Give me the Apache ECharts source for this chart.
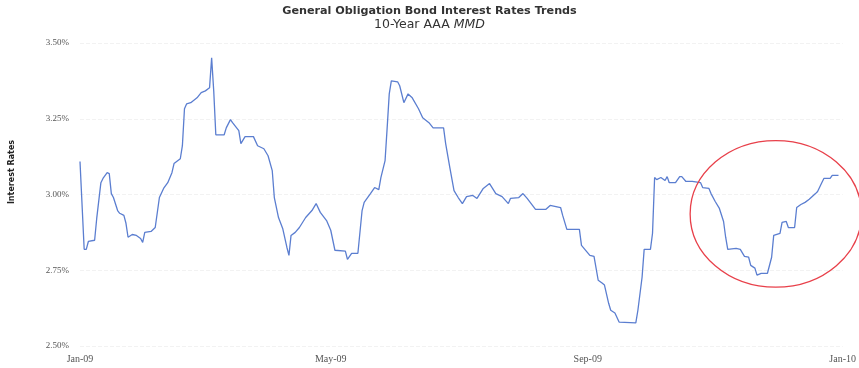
<!DOCTYPE html>
<html><head><meta charset="utf-8">
<script src="https://cdn.jsdelivr.net/npm/echarts@6/dist/echarts.min.js"></script>
<style>html,body{margin:0;padding:0;background:#fff}#c{width:859px;height:368px}</style>
</head><body><div id="c"></div>
<script>
// Days since 2009-01-01
const dayOffsets = [0,2,3,4,7,8,10,11,13,14,15,16,18,19,21,22,23,25,27,29,30,31,34,36,38,40,42,44,45,48,49,50,51,53,56,58,60,62,63,64,65,69,70,72,73,76,77,79,83,85,88,90,92,93,95,97,99,100,101,103,105,108,111,113,115,118,120,122,127,128,130,133,135,136,139,141,143,144,146,147,148,149,152,153,155,157,159,162,164,167,169,174,175,177,179,181,183,185,188,190,193,196,199,202,205,206,210,212,214,218,223,225,230,231,233,239,240,244,246,248,250,251,253,254,256,258,266,267,269,270,273,274,275,276,278,280,281,282,285,287,288,290,293,297,298,301,302,304,306,308,309,310,314,316,318,320,321,323,324,326,329,331,332,335,336,338,339,342,343,345,347,349,352,353,355,356,359,360,363];
// 10-Year AAA MMD rate (%)
const rates = [3.109,2.819,2.819,2.845,2.849,2.921,3.039,3.053,3.072,3.069,3.003,2.990,2.947,2.938,2.931,2.905,2.859,2.868,2.865,2.855,2.842,2.875,2.878,2.891,2.990,3.020,3.039,3.072,3.102,3.118,3.161,3.283,3.299,3.303,3.319,3.336,3.342,3.352,3.451,3.342,3.197,3.197,3.220,3.247,3.237,3.211,3.168,3.191,3.191,3.161,3.151,3.128,3.079,2.990,2.924,2.888,2.826,2.799,2.865,2.875,2.891,2.924,2.947,2.970,2.941,2.914,2.882,2.816,2.813,2.786,2.806,2.806,2.947,2.974,3.003,3.023,3.016,3.056,3.112,3.220,3.332,3.375,3.372,3.359,3.303,3.332,3.319,3.283,3.253,3.237,3.220,3.220,3.168,3.089,3.013,2.990,2.970,2.993,2.997,2.987,3.020,3.036,3.003,2.993,2.970,2.987,2.990,3.003,2.987,2.951,2.951,2.964,2.957,2.931,2.885,2.885,2.832,2.799,2.796,2.717,2.707,2.701,2.641,2.618,2.609,2.579,2.576,2.618,2.727,2.819,2.819,2.872,3.056,3.049,3.056,3.046,3.059,3.039,3.039,3.059,3.059,3.043,3.043,3.039,3.023,3.020,3.003,2.977,2.954,2.911,2.859,2.819,2.822,2.819,2.796,2.793,2.766,2.757,2.734,2.740,2.740,2.793,2.865,2.872,2.908,2.911,2.891,2.891,2.957,2.967,2.974,2.984,3.003,3.010,3.039,3.053,3.053,3.063,3.063];
const xTickDays = [0,120,243,365];
const xTickLabels = ['Jan-09','May-09','Sep-09','Jan-10'];
const yMin = 2.5, yMax = 3.5, yStep = 0.25;
// highlighted region (annotation ellipse): centre and half-extent in data units
const highlightCenter = [333, 2.936];
const highlightHalf = [41, 0.242];

const chart = echarts.init(document.getElementById('c'));
const data = dayOffsets.map((d, i) => [d, rates[i]]);
chart.setOption({
  animation: false,
  backgroundColor: '#fff',
  title: {
    text: 'General Obligation Bond Interest Rates Trends',
    subtext: '10-Year AAA {i|MMD}',
    left: 'center', top: 6, itemGap: 1, padding: 0,
    textStyle: {fontFamily: 'DejaVu Sans', fontSize: 11.2, fontWeight: 'bold', color: '#333'},
    subtextStyle: {fontFamily: 'DejaVu Sans', fontSize: 12.5, color: '#333',
      rich: {i: {fontFamily: 'DejaVu Sans', fontSize: 12.5, fontStyle: 'italic', color: '#333'}}}
  },
  grid: {left: 80, right: 16, top: 43, bottom: 22, containLabel: false},
  xAxis: {
    type: 'value', min: 0, max: 365,
    axisLine: {show: false}, axisTick: {show: false}, splitLine: {show: false},
    axisLabel: {
      customValues: xTickDays,
      formatter: v => xTickLabels[xTickDays.indexOf(v)] || '',
      fontFamily: 'Liberation Serif', fontSize: 10, color: '#555', margin: 8
    }
  },
  yAxis: {
    type: 'value', min: yMin, max: yMax, interval: yStep,
    axisLine: {show: false}, axisTick: {show: false},
    splitLine: {show: true, lineStyle: {color: '#f2f2f2', type: 'dashed', width: 1}},
    axisLabel: {
      formatter: v => v.toFixed(2) + '%',
      fontFamily: 'Liberation Serif', fontSize: 9, color: '#555', margin: 11
    }
  },
  series: [{
    type: 'line', data: data, showSymbol: false, smooth: false,
    lineStyle: {color: '#5b7ed0', width: 1.3}
  }]
});

const c = chart.convertToPixel({gridIndex: 0}, highlightCenter);
const e = chart.convertToPixel({gridIndex: 0}, [highlightCenter[0] + highlightHalf[0], highlightCenter[1] + highlightHalf[1]]);
chart.setOption({
  graphic: [
    {type: 'ellipse', shape: {cx: c[0], cy: c[1], rx: Math.abs(e[0] - c[0]), ry: Math.abs(c[1] - e[1])},
     style: {fill: 'none', stroke: '#e8404a', lineWidth: 1.3}, z: 10},
    {type: 'text', x: 12, y: 172, rotation: Math.PI / 2,
     style: {text: 'Interest Rates', font: 'bold 8px "DejaVu Sans"', fill: '#222', align: 'center', verticalAlign: 'middle'}}
  ]
});
</script>
</body></html>
